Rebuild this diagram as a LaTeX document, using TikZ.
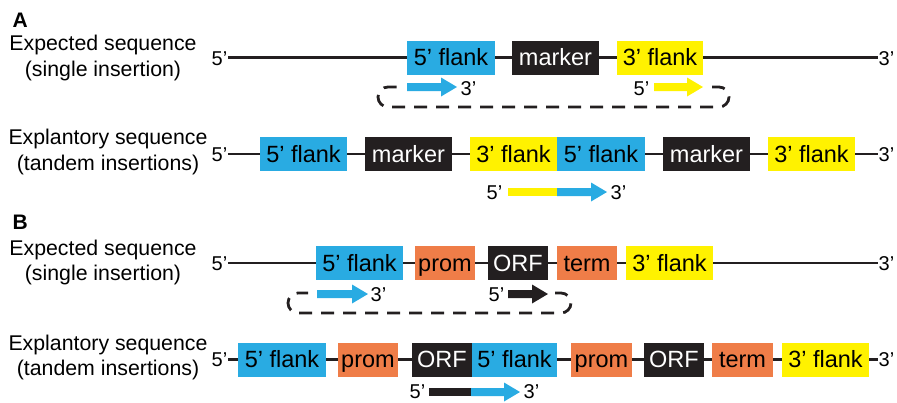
\documentclass[tikz,border=0pt]{standalone}
\usepackage{fontspec}
\setmainfont{Liberation Sans}
\definecolor{cblue}{RGB}{41,171,226}
\definecolor{cyellow}{RGB}{255,242,0}
\definecolor{corange}{RGB}{239,125,72}
\definecolor{cblack}{RGB}{35,31,32}
\newcommand\dnaseg[6]{%
  \pgfmathsetmacro\segw{#3-#2}%
  \node[#5, minimum width=\segw pt] (#1) at ({(#2+#3)/2},#4) {#6};}
\newcommand\primerarrow[4]{%
  \fill[#1] (#2,#4-4) -- (#3-16,#4-4) -- (#3-16,#4-9.5) -- (#3,#4)
    -- (#3-16,#4+9.5) -- (#3-16,#4+4) -- (#2,#4+4) -- cycle;}
\tikzset{
  box/.style={inner sep=0pt, minimum height=34pt, text height=16.8pt, text depth=0pt,
    font=\fontsize{23.5}{23.5}\selectfont},
  bluebox/.style={box, fill=cblue, text=black},
  yelbox/.style={box, fill=cyellow, text=black},
  orbox/.style={box, fill=corange, text=black},
  blkbox/.style={box, fill=cblack, text=white},
  endlbl/.style={inner sep=0.5pt, font=\fontsize{20}{20}\selectfont},
  rowlbl/.style={inner sep=0pt, anchor=base, font=\fontsize{21.3}{21.3}\selectfont},
  panellbl/.style={inner sep=0pt, anchor=base west, font=\fontsize{21}{21}\selectfont\bfseries},
  backbone/.style={line width=2.6pt, cblack},
  loop/.style={line width=2.8pt, cblack, dash pattern=on 13pt off 9pt, rounded corners=10pt}
}
\begin{document}
\begin{tikzpicture}[x=1pt,y=-1pt]
\useasboundingbox (0,0) rectangle (897,402);
% panel labels
\node[panellbl] (pA) at (12.5,27) {A};
\node[panellbl] (pB) at (12.5,229) {B};
% row labels
\node[rowlbl] (l1a) at (103,50) {Expected sequence};
\node[rowlbl] (l1b) at (103,76) {(single insertion)};
\node[rowlbl] (l2a) at (108,144) {Explantory sequence};
\node[rowlbl] (l2b) at (108,170) {(tandem insertions)};
\node[rowlbl] (l3a) at (103,255) {Expected sequence};
\node[rowlbl] (l3b) at (103,280.5) {(single insertion)};
\node[rowlbl] (l4a) at (108,350) {Explantory sequence};
\node[rowlbl] (l4b) at (108,375.5) {(tandem insertions)};

% ---------- Row 1 ----------
\node[endlbl, anchor=base east] (f1) at (228,65) {5’};
\node[endlbl, anchor=base west] (t1) at (878,65) {3’};
\dnaseg{b11}{407}{495}{57.5}{bluebox}{5’ flank}
\dnaseg{b12}{512}{599}{57.5}{blkbox}{marker}
\dnaseg{b13}{617}{703}{57.5}{yelbox}{3’ flank}
\draw[backbone] (f1.east |- b11.west) -- (b11.west);
\draw[backbone] (b11.east) -- (b12.west);
\draw[backbone] (b12.east) -- (b13.west);
\draw[backbone] (b13.east) -- (t1.west |- b13.east);
\primerarrow{cblue}{407}{457}{87}
\node[endlbl, anchor=base west] (a1r) at (460,95) {3’};
\node[endlbl, anchor=base east] (a1l) at (650,95) {5’};
\primerarrow{cyellow}{654}{703}{87}
\draw[loop] (712,87) -- (729,87) -- (729,107) -- (378,107) -- (378,87) -- (400,87);

% ---------- Row 2 ----------
\node[endlbl, anchor=base east] (f2) at (228,161.5) {5’};
\node[endlbl, anchor=base west] (t2) at (878,161.5) {3’};
\dnaseg{b21}{260}{347}{154}{bluebox}{5’ flank}
\dnaseg{b22}{365}{452}{154}{blkbox}{marker}
\dnaseg{b23}{470}{557}{154}{yelbox}{3’ flank}
\dnaseg{b24}{557}{645}{154}{bluebox}{5’ flank}
\dnaseg{b25}{663}{750}{154}{blkbox}{marker}
\dnaseg{b26}{768}{855}{154}{yelbox}{3’ flank}
\draw[backbone] (f2.east |- b21.west) -- (b21.west);
\draw[backbone] (b21.east) -- (b22.west);
\draw[backbone] (b22.east) -- (b23.west);
\draw[backbone] (b24.east) -- (b25.west);
\draw[backbone] (b25.east) -- (b26.west);
\draw[backbone] (b26.east) -- (t2.west |- b26.east);
\node[endlbl, anchor=base east] (a2l) at (503,199) {5’};
\fill[cyellow] (508,188) rectangle (557,196);
\primerarrow{cblue}{557}{607}{192}
\node[endlbl, anchor=base west] (a2r) at (610,199) {3’};

% ---------- Row 3 ----------
\node[endlbl, anchor=base east] (f3) at (228,270) {5’};
\node[endlbl, anchor=base west] (t3) at (878,270) {3’};
\dnaseg{b31}{316}{403}{263}{bluebox}{5’ flank}
\dnaseg{b32}{415}{475}{263}{orbox}{prom}
\dnaseg{b33}{488}{548}{263}{blkbox}{ORF}
\dnaseg{b34}{557}{617}{263}{orbox}{term}
\dnaseg{b35}{626}{713}{263}{yelbox}{3’ flank}
\draw[backbone] (f3.east |- b31.west) -- (b31.west);
\draw[backbone] (b31.east) -- (b32.west);
\draw[backbone] (b32.east) -- (b33.west);
\draw[backbone] (b33.east) -- (b34.west);
\draw[backbone] (b34.east) -- (b35.west);
\draw[backbone] (b35.east) -- (t3.west |- b35.east);
\primerarrow{cblue}{317}{368}{294}
\node[endlbl, anchor=base west] (a3r) at (370,301) {3’};
\node[endlbl, anchor=base east] (a3l) at (505,301) {5’};
\primerarrow{cblack}{508}{548}{294}
\draw[loop] (555,293) -- (571,293) -- (571,313) -- (288,313) -- (288,293) -- (308,293);

% ---------- Row 4 ----------
\node[endlbl, anchor=base east] (f4) at (228,366.5) {5’};
\node[endlbl, anchor=base west] (t4) at (878,366.5) {3’};
\dnaseg{b41}{238}{326}{359.5}{bluebox}{5’ flank}
\dnaseg{b42}{338}{398}{359.5}{orbox}{prom}
\dnaseg{b43}{412}{472}{359.5}{blkbox}{ORF}
\dnaseg{b44}{472}{557}{359.5}{bluebox}{5’ flank}
\dnaseg{b45}{571}{632}{359.5}{orbox}{prom}
\dnaseg{b46}{644}{704}{359.5}{blkbox}{ORF}
\dnaseg{b47}{712}{773}{359.5}{orbox}{term}
\dnaseg{b48}{782}{869}{359.5}{yelbox}{3’ flank}
\draw[backbone] (f4.east |- b41.west) -- (b41.west);
\draw[backbone] (b41.east) -- (b42.west);
\draw[backbone] (b42.east) -- (b43.west);
\draw[backbone] (b44.east) -- (b45.west);
\draw[backbone] (b45.east) -- (b46.west);
\draw[backbone] (b46.east) -- (b47.west);
\draw[backbone] (b47.east) -- (b48.west);
\draw[backbone] (b48.east) -- (t4.west |- b48.east);
\node[endlbl, anchor=base east] (a4l) at (426,398.5) {5’};
\fill[cblack] (429,388) rectangle (471,396);
\primerarrow{cblue}{471}{520}{392}
\node[endlbl, anchor=base west] (a4r) at (523,398.5) {3’};
\end{tikzpicture}
\end{document}
